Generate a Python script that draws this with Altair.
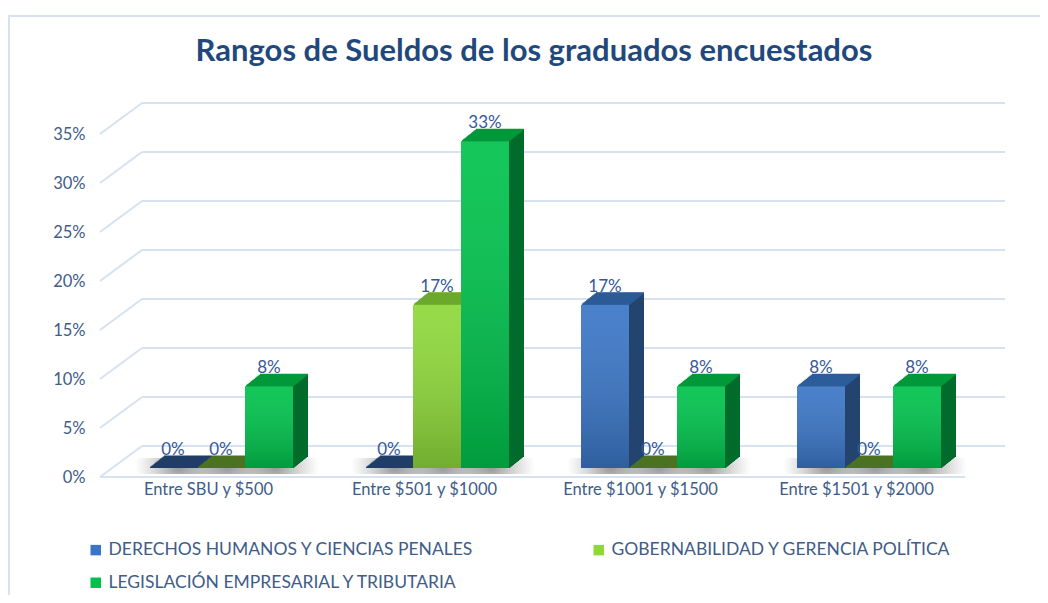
import json
import altair as alt
import pandas as pd

# ---------------- data ----------------
title_text = "Rangos de Sueldos de los graduados encuestados"
categories = ["Entre SBU y $500", "Entre $501 y $1000", "Entre $1001 y $1500", "Entre $1501 y $2000"]
series = [
    "DERECHOS HUMANOS Y CIENCIAS PENALES",
    "GOBERNABILIDAD Y GERENCIA POLÍTICA",
    "LEGISLACIÓN EMPRESARIAL Y TRIBUTARIA",
]
derechos = [0.0, 0.0, 0.1667, 0.0833]
gobernabilidad = [0.0, 0.1667, 0.0, 0.0]
legislacion = [0.0833, 0.3333, 0.0833, 0.0833]
y_ticks = [0.0, 0.05, 0.10, 0.15, 0.20, 0.25, 0.30, 0.35]

# ---------------- styles ----------------
front_colors = ["#3A76C6", "#8ED83A", "#00C24C"]
top_colors = ["#2C5D9A", "#6CAA2E", "#00983A"]
zero_colors = ["#1F3D66", "#4A7221", "#00803A"]
side_colors = ["#22446F", "#5A8F25", "#006B2A"]
grid_col = "#D6E1F2"
text_col = "#405C88"
value_col = "#34589A"
title_col = "#1F497D"
FONT = "Lato"
GROUP_STEP = 4.5  # group spacing in bar widths
STEPS = 12        # depth steps for the 3D extrusion
DX = 1.25         # px per depth step, horizontal
BASE = -9         # px lift of bars above front floor line

rows = []
for ci, cat in enumerate(categories):
    for si, vals in enumerate([derechos, gobernabilidad, legislacion]):
        rows.append({"cat": cat, "ci": ci, "serie": series[si], "si": si, "val": vals[ci]})
df = pd.DataFrame(rows)
ticks_df = pd.DataFrame({"v": y_ticks})
title_df = pd.DataFrame({"t": [title_text]})

W, H = 864, 343
xscale = alt.Scale(domain=[-0.75, 17.25], nice=False, zero=False)
yscale = alt.Scale(domain=[0, 0.35], nice=False)

label_arr = json.dumps(categories)
x_axis = alt.Axis(
    values=[ci * GROUP_STEP + 1.5 for ci in range(len(categories))],
    labelExpr=f"{label_arr}[round((datum.value - 1.5) / {GROUP_STEP})]",
    ticks=False, domain=False, grid=False, title=None,
    labelFontSize=16.5, labelColor=text_col, labelFont=FONT, labelPadding=4,
    labelOffset=-13,
)
y_axis = alt.Axis(
    values=y_ticks, format=".0%", ticks=False, domain=False, grid=False, title=None,
    labelFontSize=16.5, labelColor=text_col, labelFont=FONT, labelPadding=28,
)

base = alt.Chart(df).transform_calculate(
    xpos=f"datum.ci * {GROUP_STEP} + datum.si",
    xend=f"datum.ci * {GROUP_STEP} + datum.si + 1",
    xmid=f"datum.ci * {GROUP_STEP} + datum.si + 0.5",
)

X = alt.X("xpos:Q", scale=xscale, axis=x_axis)
X2 = alt.X2("xend:Q")
Y = alt.Y("val:Q", scale=yscale, axis=y_axis)

# frame
frame = alt.Chart(ticks_df).mark_rect(fill=None, stroke="#D6E1F2", strokeWidth=2).encode(
    x=alt.value(-104), x2=alt.value(1000), y=alt.value(-118), y2=alt.value(600)
)

# title as a text mark
title = alt.Chart(title_df).mark_text(
    fontSize=31, font=FONT, fontWeight="bold", color=title_col,
    align="center", baseline="middle",
).encode(text="t:N", x=alt.value(421), y=alt.value(-82))

# back-wall gridlines
grid_back = alt.Chart(ticks_df).mark_rule(color=grid_col, strokeWidth=2, yOffset=-31).encode(
    y=alt.Y("v:Q", scale=yscale, axis=y_axis), x=alt.value(29), x2=alt.value(892)
)
# side-wall diagonals
grid_diag = alt.Chart(ticks_df).mark_rule(color=grid_col, strokeWidth=2, y2Offset=-31).encode(
    y=alt.Y("v:Q", scale=yscale), y2="v:Q", x=alt.value(-13), x2=alt.value(29)
)
# front floor line
floor_front = alt.Chart(ticks_df).transform_filter("datum.v == 0").mark_rule(
    color=grid_col, strokeWidth=2
).encode(y=alt.Y("v:Q", scale=yscale), x=alt.value(-13), x2=alt.value(852))

# soft floor shadow under each bar
shadow_grad = alt.Gradient(
    gradient="radial",
    stops=[alt.GradientStop(color="rgba(60,60,60,0.55)", offset=0),
           alt.GradientStop(color="rgba(120,120,120,0)", offset=1)],
    x1=0.5, y1=0.5, r1=0, x2=0.5, y2=0.5, r2=0.5,
)
shadow = base.mark_rect(color=shadow_grad, xOffset=-14, x2Offset=26,
                        yOffset=BASE + 6, y2Offset=BASE - 10).encode(
    x=X, x2=X2, y=alt.Y(datum=0, scale=yscale), y2=alt.Y2(datum=0)
)

layers = [frame, title, grid_back, grid_diag, floor_front, shadow]

grad = alt.Gradient(
    gradient="linear",
    stops=[alt.GradientStop(color="rgba(255,255,255,0.08)", offset=0),
           alt.GradientStop(color="rgba(0,0,0,0.2)", offset=1)],
    x1=0, x2=0, y1=0, y2=1,
)

for si in range(len(series)):
    b = base.transform_filter(f"datum.si == {si}")
    # side / body extrusion
    for i in range(1, STEPS + 1):
        layers.append(
            b.mark_rect(color=side_colors[si], xOffset=DX * i, x2Offset=DX * i,
                        yOffset=BASE - i, y2Offset=BASE - i + 1).encode(
                x=X, x2=X2, y=Y, y2=alt.Y2(datum=0))
        )
    # top face strips
    for i in range(1, STEPS + 1):
        layers.append(
            b.mark_rect(xOffset=DX * i, x2Offset=DX * i,
                        yOffset=BASE - i - 0.5, y2Offset=BASE - i + 1).encode(
                x=X, x2=X2, y=Y, y2="val:Q",
                color=alt.condition("datum.val == 0", alt.value(zero_colors[si]), alt.value(top_colors[si])))
        )
    # front face
    layers.append(
        b.mark_rect(yOffset=BASE, y2Offset=BASE).encode(
            x=X, x2=X2, y=Y, y2=alt.Y2(datum=0),
            color=alt.Color("serie:N", scale=alt.Scale(domain=series, range=front_colors),
                            legend=alt.Legend(
                                title=None, orient="none", legendX=-26, legendY=407,
                                columns=2, columnPadding=116, rowPadding=14,
                                symbolType="square", symbolSize=110, symbolStrokeWidth=0,
                                labelFontSize=17.5, labelColor=text_col, labelFont=FONT,
                                labelLimit=500, direction="horizontal")))
    )
    # gradient overlay on front face
    layers.append(
        b.mark_rect(color=grad, yOffset=BASE, y2Offset=BASE).encode(
            x=X, x2=X2, y=Y, y2=alt.Y2(datum=0))
    )
    # value labels
    layers.append(
        b.mark_text(dy=-22, baseline="alphabetic", align="center", fontSize=17,
                    color=value_col, font=FONT).encode(
            x=alt.X("xmid:Q", scale=xscale), y=Y, text=alt.Text("val:Q", format=".0%"))
    )

chart = alt.layer(*layers).properties(
    width=W, height=H,
    padding={"left": 105, "top": 126, "right": 63, "bottom": 118},
    autosize=alt.AutoSizeParams(type="none"),
).configure(font=FONT, view=alt.ViewConfig(stroke="transparent"))

chart.save("out.html", embed_options={"renderer": "svg", "actions": False})
